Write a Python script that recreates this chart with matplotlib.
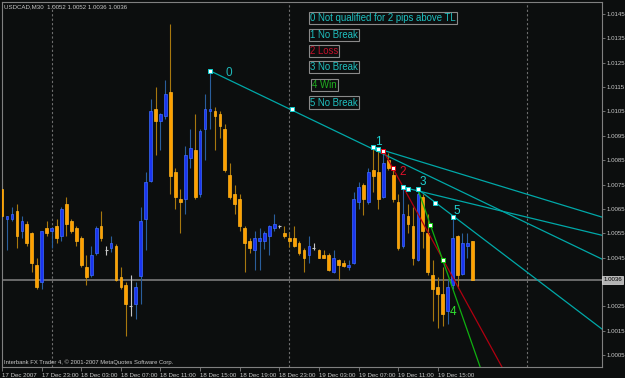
import matplotlib
matplotlib.use("Agg")
import matplotlib.pyplot as plt
import numpy as np

plt.rcParams['font.family'] = ['Liberation Sans', 'DejaVu Sans']

# ---------------- data (USDCAD M30, bars from 17 Dec 2007 19:00) ----------------
opens = [1.0073, 1.0061, 1.0061, 1.0064, 1.0056, 1.0059, 1.0055, 1.0042, 1.0035, 1.0057,
         1.0056, 1.0058, 1.0054, 1.0067, 1.0060, 1.0057, 1.0053, 1.0041, 1.0038, 1.0047,
         1.0058, 1.0048, 1.0049, 1.0050, 1.0037, 1.0034, 1.0025, 1.0026, 1.00375, 1.0061,
         1.00765, 1.0106, 1.0101, 1.0103, 1.0113, 1.0080, 1.0069, 1.0069, 1.0086, 1.0089,
         1.0071, 1.0098, 1.0105, 1.0105, 1.0104, 1.0098, 1.0079, 1.0071, 1.0069, 1.0057,
         1.0052, 1.0048, 1.0052, 1.0052, 1.0054, 1.0057, 1.0058, 1.0055, 1.0053, 1.0053,
         1.0051, 1.0048, 1.0046, 1.0049, 1.0048, 1.0046, 1.0046, 1.0039, 1.0044, 1.0043,
         1.0041, 1.0043, 1.0068, 1.0075, 1.0068, 1.0081, 1.0080, 1.0070, 1.0085, 1.0079,
         1.0068, 1.0050, 1.0062, 1.0058, 1.0044, 1.0070, 1.0055, 1.0038, 1.0033, 1.0030,
         1.0023, 1.0034, 1.0054, 1.00385, 1.0050, 1.0052]
highs = [1.0077, 1.0062, 1.0066, 1.0067, 1.0062, 1.0060, 1.00555, 1.0045, 1.0056, 1.0060,
         1.00575, 1.0061, 1.0066, 1.0070, 1.0061, 1.0058, 1.0054, 1.0046, 1.0050, 1.0058,
         1.0064, 1.0050, 1.0054, 1.00505, 1.0041, 1.0035, 1.0038, 1.0035, 1.0066, 1.0080,
         1.0110, 1.0115, 1.01045, 1.0118, 1.0141, 1.0082, 1.0073, 1.0091, 1.0098, 1.0104,
         1.0098, 1.0112, 1.01217, 1.0107, 1.0105, 1.0100, 1.0084, 1.0075, 1.0071, 1.0058,
         1.0053, 1.0056, 1.0057, 1.0056, 1.00585, 1.0063, 1.00583, 1.0058, 1.0055, 1.0058,
         1.0052, 1.0049, 1.0054, 1.0051, 1.00485, 1.0048, 1.0047, 1.0048, 1.00443, 1.0044,
         1.0044, 1.0072, 1.0076, 1.00755, 1.0082, 1.00906, 1.00895, 1.0089, 1.0088, 1.0082,
         1.0071, 1.0074, 1.0067, 1.0066, 1.00735, 1.0071, 1.0063, 1.0044, 1.0037, 1.0041,
         1.0036, 1.0062, 1.00545, 1.0055, 1.0055, 1.0052]
lows = [1.0061, 1.0048, 1.0060, 1.0049, 1.0053, 1.0050, 1.0039, 1.0032, 1.0032, 1.0054,
        1.0049, 1.0051, 1.0052, 1.0054, 1.0055, 1.0050, 1.0041, 1.0034, 1.0037, 1.0046,
        1.0052, 1.0046, 1.00475, 1.00355, 1.0032, 1.0013, 1.0021, 1.0020, 1.0026, 1.0048,
        1.0076, 1.0087, 1.0089, 1.0102, 1.0071, 1.0065, 1.0055, 1.0063, 1.0082, 1.0069,
        1.0070, 1.0085, 1.0098, 1.0089, 1.0094, 1.0080, 1.0069, 1.0063, 1.0056, 1.0039,
        1.0047, 1.0040, 1.0040, 1.00486, 1.0046, 1.0056, 1.0057, 1.0053, 1.00495, 1.00495,
        1.0046, 1.0039, 1.0043, 1.0048, 1.0045, 1.0045, 1.00397, 1.00387, 1.0036, 1.0041,
        1.0040, 1.00425, 1.0065, 1.00625, 1.0067, 1.0072, 1.0065, 1.00695, 1.0081, 1.0068,
        1.0048, 1.0049, 1.0055, 1.0042, 1.00435, 1.0049, 1.0038, 1.0019, 1.0016, 1.0017,
        1.0018, 1.0032, 1.00325, 1.0038, 1.0045, 1.0036]
closes = [1.0062, 1.0062, 1.0063, 1.0054, 1.0060, 1.0051, 1.0043, 1.0033, 1.0056, 1.0055,
          1.0057, 1.0053, 1.0065, 1.0059, 1.0056, 1.0052, 1.0042, 1.0037, 1.0046, 1.0057,
          1.0053, 1.0048, 1.0051, 1.0036, 1.0033, 1.0026, 1.0025, 1.0033, 1.0060, 1.0076,
          1.0105, 1.0101, 1.0104, 1.0112, 1.00785, 1.0070, 1.0068, 1.0087, 1.0090, 1.0070,
          1.0097, 1.0106, 1.0106, 1.0103, 1.0099, 1.0081, 1.0070, 1.0067, 1.0058, 1.0051,
          1.0049, 1.0053, 1.0053, 1.0055, 1.0058, 1.0059, 1.0058, 1.0054, 1.0052, 1.0050,
          1.0047, 1.0045, 1.0050, 1.0049, 1.0045, 1.0045, 1.0040, 1.0045, 1.0042, 1.00417,
          1.0042, 1.0069, 1.0074, 1.0069, 1.0080, 1.00785, 1.0069, 1.0084, 1.0082, 1.0069,
          1.0049, 1.0063, 1.0059, 1.0045, 1.0071, 1.0056, 1.0039, 1.0032, 1.0030, 1.0022,
          1.0033, 1.0053, 1.0038, 1.0051, 1.0051, 1.0036]

time_tick_bars = [0, 8, 16, 24, 32, 40, 48, 56, 64, 72, 80, 88]
time_tick_labels = ["17 Dec 2007", "17 Dec 23:00", "18 Dec 03:00", "18 Dec 07:00",
                    "18 Dec 11:00", "18 Dec 15:00", "18 Dec 19:00", "18 Dec 23:00",
                    "19 Dec 03:00", "19 Dec 07:00", "19 Dec 11:00", "19 Dec 15:00"]
day_separator_bars = [10, 58, 106]
price_ticks = [1.0145, 1.0135, 1.0125, 1.0115, 1.0105, 1.0095, 1.0085, 1.0075,
               1.0065, 1.0055, 1.0045, 1.0025, 1.0015, 1.0005]
bid_price = 1.0036

# trendlines: (bar, price) anchor pairs, drawn as rays
tl_cyan = [((42, 1.01217), (75, 1.00895)),
           ((75, 1.00903), (85, 1.00841)),
           ((81, 1.00739), (91, 1.00690)),
           ((84, 1.00731), (91, 1.00623))]
tl_red = [((77, 1.00889), (79, 1.00815))]
tl_green = [((84, 1.00731), (89, 1.00441))]

pts_cyan_bar = [42, 58.5, 75, 76, 81, 82, 84, 87.5, 91]
pts_cyan_price = [1.01217, 1.01060, 1.00903, 1.00895, 1.00739, 1.00733, 1.00731, 1.00676, 1.00618]
pts_red_bar = [77, 79]
pts_red_price = [1.00889, 1.00817]
pts_green_bar = [86.5, 89]
pts_green_price = [1.00584, 1.00441]

chart_labels = ["0", "1", "2", "3", "4", "5"]
chart_label_bar = [45.9, 76.0, 80.9, 85.0, 91.0, 91.9]
chart_label_price = [1.01209, 1.00926, 1.00803, 1.00762, 1.00229, 1.00642]
chart_label_color = ["#1FB8B8", "#1FD0D0", "#E0102A", "#1FD0D0", "#30E030", "#1FD0D0"]

legend_texts = ["0 Not qualified for 2 pips above TL", "1 No Break", "2 Loss",
                "3 No Break", "4 Win", "5 No Break"]
legend_colors = ["#1FC0C0", "#1FC0C0", "#C0102A", "#1FC0C0", "#20B020", "#1FC0C0"]

# ---------------- figure ----------------
BG = "#0C0E0E"
W, H = 625, 378
fig = plt.figure(figsize=(W / 100, H / 100), dpi=100, facecolor=BG)
ax = fig.add_axes([1.7 / W, 11 / H, (602 - 1.7) / W, (367 - 2) / H], facecolor=BG)

XMIN, XMAX = -0.08, 121.19
ax.set_xlim(XMIN, XMAX)
ax.set_ylim(1.000016, 1.014992)

o = np.array(opens); h = np.array(highs); l = np.array(lows); c = np.array(closes)
idx = np.arange(len(o))
up = c > o
dn = c < o
dj = c == o

# separators & bid line
for b in day_separator_bars:
    ax.axvline(b, color="#6E6E6E", lw=0.8, ls=(0, (2, 2)), zorder=1)
ax.axhline(bid_price, color="#6A6A6A", lw=1.4, zorder=1)

# candles
ax.vlines(idx[up], l[up], h[up], color="#2A5E9C", lw=0.8, zorder=2)
ax.vlines(idx[dn], l[dn], h[dn], color="#A8780E", lw=0.8, zorder=2)
ax.vlines(idx[dj], l[dj], h[dj], color="#C8C8C8", lw=0.8, zorder=2)
ax.bar(idx[up], (c - o)[up], bottom=o[up], width=0.55, color="#1A34F0",
       edgecolor="#3C6CFF", lw=0.5, zorder=3)
ax.bar(idx[dn], (o - c)[dn], bottom=c[dn], width=0.55, color="#FFA000",
       edgecolor="#FFB41E", lw=0.5, zorder=3)
ax.hlines(c[dj], idx[dj] - 0.3, idx[dj] + 0.3, color="#C8C8C8", lw=0.8, zorder=3)


def ray(p1, p2, color):
    (x1, y1), (x2, y2) = p1, p2
    s = (y2 - y1) / (x2 - x1)
    ax.plot([x1, XMAX], [y1, y1 + s * (XMAX - x1)], color=color, lw=0.9, zorder=4)


for a, b in tl_cyan:
    ray(a, b, "#00A8A8")
for a, b in tl_red:
    ray(a, b, "#B00010")
for a, b in tl_green:
    ray(a, b, "#10B010")

ax.plot(pts_cyan_bar, pts_cyan_price, ls="none", marker="s", ms=2.6, mfc="white",
        mec="#10D0D0", mew=0.7, zorder=5)
ax.plot(pts_red_bar, pts_red_price, ls="none", marker="s", ms=2.6, mfc="white",
        mec="#E00010", mew=0.7, zorder=5)
ax.plot(pts_green_bar, pts_green_price, ls="none", marker="s", ms=2.6, mfc="white",
        mec="#10D010", mew=0.7, zorder=5)

for t, xb, yp, col in zip(chart_labels, chart_label_bar, chart_label_price, chart_label_color):
    ax.text(xb, yp, t, color=col, fontsize=8.5, ha="center", va="center", zorder=6)

# axes styling
for sp in ax.spines.values():
    sp.set_color("#808080")
    sp.set_linewidth(0.8)
ax.yaxis.tick_right()
ax.set_yticks(price_ticks)
ax.set_yticklabels([f"{p:.4f}" for p in price_ticks])
ax.tick_params(axis="y", colors="#808080", labelcolor="#C8C8C8", labelsize=4.4,
               length=2, width=0.6, pad=1.5, direction="out")
ax.set_xticks(time_tick_bars)
ax.set_xticklabels(time_tick_labels, ha="left")
ax.tick_params(axis="x", colors="#808080", labelcolor="#C8C8C8", labelsize=4.4,
               length=3, width=0.6, pad=1.2, direction="out")
for lab in ax.get_xticklabels():
    lab.set_horizontalalignment("left")

# bid price tag
ax.text(1.002, bid_price, f"{bid_price:.4f}", transform=ax.get_yaxis_transform(),
        ha="left", va="center", fontsize=4.4, color="#000000",
        bbox=dict(boxstyle="square,pad=0.25", fc="#B4B4B4", ec="#E0E0E0", lw=0.5), zorder=7)

# header & footer texts
fig.text(4 / W, 1 - 7 / H, "USDCAD,M30  1.0052 1.0052 1.0036 1.0036", fontsize=4.4,
         color="#C8C8C8", ha="left", va="center")
fig.text(4 / W, 1 - 362.5 / H, "Interbank FX Trader 4, \u00a9 2001-2007 MetaQuotes Software Corp.",
         fontsize=4.2, color="#C8C8C8", ha="left", va="center")

# legend boxes
legend_y = [18, 35, 51, 67.2, 84.8, 102.5]
legend_x = [310, 310, 310, 310, 312.5, 310]
for t, col, xx, yy in zip(legend_texts, legend_colors, legend_x, legend_y):
    fig.text(xx / W, 1 - yy / H, t, fontsize=6.9, color=col, ha="left", va="center",
             bbox=dict(boxstyle="square,pad=0.12", fc="none", ec="#8A8A8A", lw=0.8))

fig.savefig("out.png", dpi=100, facecolor=BG)
